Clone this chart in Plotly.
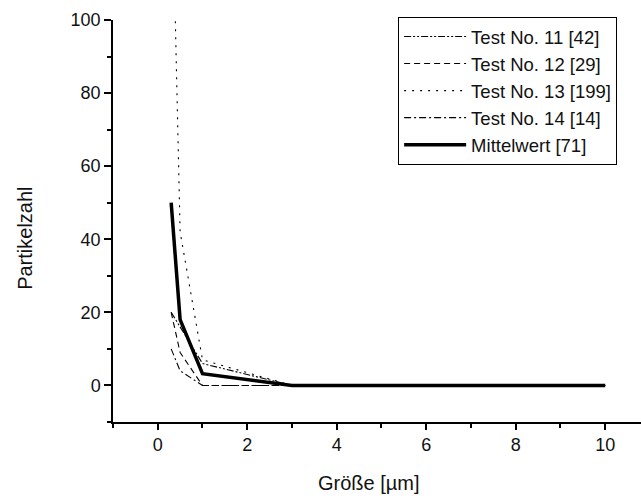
import plotly.graph_objects as go

# Data
groesse = [0.3, 0.5, 1, 3, 5, 10]
test11 = [20, 16, 6, 0, 0, 0]
test12 = [20, 9, 0, 0, 0, 0]
test13 = [150, 42, 7, 0, 0, 0]
test14 = [10, 4, 0, 0, 0, 0]
mittelwert = [50, 18, 3.2, 0, 0, 0]

names = ["Test No. 11 [42]", "Test No. 12 [29]", "Test No. 13 [199]",
         "Test No. 14 [14]", "Mittelwert [71]"]

FONT = "Liberation Sans, Arial, sans-serif"

fig = go.Figure()
series = [test11, test12, test13, test14]
dashes = ["7px,2px,2px,2px,2px,2px", "6px,4px", "2px,6px", "7px,3px,2px,3px"]
for ys, nm, ds in zip(series, names[:4], dashes):
    fig.add_trace(go.Scatter(x=groesse, y=ys, mode="lines", name=nm,
                             line=dict(color="black", width=1.1, dash=ds)))
fig.add_trace(go.Scatter(x=groesse, y=mittelwert, mode="lines", name=names[4],
                         line=dict(color="black", width=3.5)))

fig.update_layout(
    width=641, height=498,
    margin=dict(l=112.5, r=0, t=20, b=76.3, autoexpand=False),
    paper_bgcolor="white", plot_bgcolor="white",
    font=dict(family=FONT, size=18, color="#111"),
    showlegend=True,
    legend=dict(x=0.54, y=1.0075, xanchor="left", yanchor="top",
                bordercolor="black", borderwidth=1, bgcolor="white",
                font=dict(family=FONT, size=18.5, color="#111"),
                tracegroupgap=0, itemwidth=62),
    annotations=[
        dict(text="Partikelzahl", x=-0.1656, y=0.457, xref="paper", yref="paper",
             showarrow=False, textangle=-90, font=dict(family=FONT, size=20, color="#111"),
             xanchor="center", yanchor="middle"),
        dict(text="Größe [µm]", x=0.485, y=-0.1526, xref="paper", yref="paper",
             showarrow=False, font=dict(family=FONT, size=20, color="#111"),
             xanchor="center", yanchor="middle"),
    ],
)

fig.update_xaxes(range=[-1, 10.8], tick0=0, dtick=2, showgrid=False, zeroline=False,
                 showline=True, linecolor="black", linewidth=1.5,
                 ticks="outside", ticklen=6, tickwidth=1.5, tickcolor="black",
                 minor=dict(dtick=1, tick0=1, ticks="outside", ticklen=4,
                            tickwidth=1.5, tickcolor="black", showgrid=False))
fig.update_yaxes(range=[-10, 100], tick0=0, dtick=20, showgrid=False, zeroline=False,
                 showline=True, linecolor="black", linewidth=1.5,
                 ticks="outside", ticklen=7, tickwidth=1.5, tickcolor="black",
                 minor=dict(dtick=10, tick0=10, ticks="outside", ticklen=4,
                            tickwidth=1.5, tickcolor="black", showgrid=False))

fig.write_html("out.html", config={"displayModeBar": False},
               post_script="document.body.style.margin='0px';document.body.style.overflow='hidden';")
